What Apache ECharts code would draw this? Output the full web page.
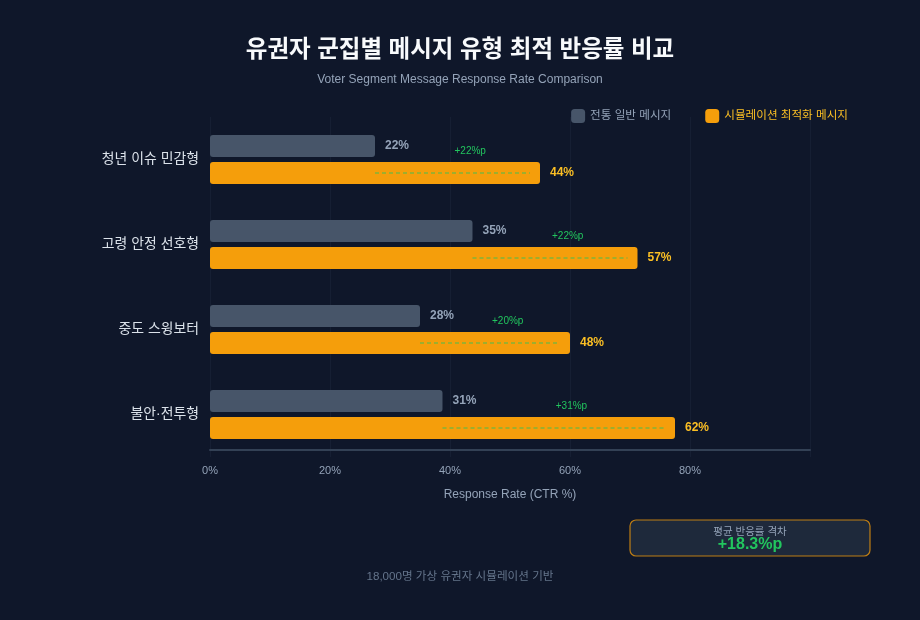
<!DOCTYPE html>
<html>
<head>
<meta charset="utf-8">
<script src="https://cdn.jsdelivr.net/npm/echarts@6/dist/echarts.min.js"></script>
<style>
  html, body { margin: 0; padding: 0; background: #0f172a; }
  #chart { width: 920px; height: 620px; }
</style>
</head>
<body>
<div id="chart"></div>
<script>
// 데이터
var segments = ['청년 이슈 민감형', '고령 안정 선호형', '중도 스윙보터', '불안·전투형'];
var baseRates = [22, 35, 28, 31];
var optRates = [44, 57, 48, 62];
var seriesNames = ['전통 일반 메시지', '시뮬레이션 최적화 메시지'];
var avgGap = 18.3;

var FONT = '"Liberation Sans", "Noto Sans CJK KR", sans-serif';

var gapData = segments.map(function (s, i) {
    return [i, baseRates[i], optRates[i]];
});

var chart = echarts.init(document.getElementById('chart'));

var option = {
    backgroundColor: '#0f172a',
    textStyle: { fontFamily: FONT },
    title: {
        text: '유권자 군집별 메시지 유형 최적 반응률 비교',
        subtext: 'Voter Segment Message Response Rate Comparison',
        left: 'center',
        top: 34,
        itemGap: 11,
        textStyle: { color: '#f8fafc', fontSize: 23.5, fontWeight: 'bold', fontFamily: FONT },
        subtextStyle: { color: '#94a3b8', fontSize: 12, fontFamily: FONT }
    },
    legend: {
        right: 67,
        top: 104,
        itemWidth: 14,
        itemHeight: 14,
        itemGap: 34,
        icon: 'roundRect',
        textStyle: { fontSize: 11.6, fontFamily: FONT },
        data: [
            { name: seriesNames[0], textStyle: { color: '#94a3b8' } },
            { name: seriesNames[1], textStyle: { color: '#fbbf24' } }
        ]
    },
    grid: { left: 210, right: 110, top: 117, height: 340 },
    xAxis: [{
        type: 'value',
        min: 0,
        max: 100,
        interval: 20,
        offset: -7,
        name: 'Response Rate (CTR %)',
        nameLocation: 'middle',
        nameGap: 39,
        nameTextStyle: { color: '#94a3b8', fontSize: 12, fontFamily: FONT },
        axisLine: { show: true, lineStyle: { color: '#334155', width: 2 } },
        axisTick: { show: false },
        axisLabel: {
            color: '#94a3b8',
            fontSize: 11,
            margin: 15,
            formatter: function (v) { return v === 100 ? '' : v + '%'; }
        },
        splitLine: { show: true, lineStyle: { color: 'rgba(51,65,85,0.22)', width: 1 } }
    }, {
        // 막대 전용 스케일
        type: 'value',
        min: 0,
        max: 80,
        show: false
    }],
    yAxis: {
        type: 'category',
        inverse: true,
        data: segments,
        axisLine: { show: false },
        axisTick: { show: false },
        splitLine: { show: false },
        axisLabel: { color: '#dbe2ea', fontSize: 13.9, margin: 11, fontFamily: FONT }
    },
    series: [{
        name: seriesNames[0],
        type: 'bar',
        xAxisIndex: 1,
        data: baseRates,
        barWidth: 22,
        barGap: '23%',
        itemStyle: { color: '#475569', borderRadius: 3 },
        label: {
            show: true,
            position: 'right',
            distance: 10,
            formatter: '{c}%',
            color: '#94a3b8',
            fontSize: 12,
            fontWeight: 'bold'
        }
    }, {
        name: seriesNames[1],
        type: 'bar',
        xAxisIndex: 1,
        data: optRates,
        barWidth: 22,
        itemStyle: { color: '#f59e0b', borderRadius: 3 },
        label: {
            show: true,
            position: 'right',
            distance: 10,
            formatter: '{c}%',
            color: '#fbbf24',
            fontSize: 12,
            fontWeight: 'bold'
        }
    }, {
        name: 'gap',
        type: 'custom',
        xAxisIndex: 1,
        z: 5,
        silent: true,
        data: gapData,
        encode: { x: [1, 2], y: 0 },
        renderItem: function (params, api) {
            var p1 = api.coord([api.value(1), api.value(0)]);
            var p2 = api.coord([api.value(2), api.value(0)]);
            var y = p1[1] + 13.5;
            var diff = api.value(2) - api.value(1);
            return {
                type: 'group',
                children: [{
                    type: 'line',
                    shape: { x1: p1[0], y1: y, x2: p2[0] - 10, y2: y },
                    style: { stroke: 'rgba(34,197,94,0.55)', lineWidth: 1.5, lineDash: [4, 3] }
                }, {
                    type: 'text',
                    x: (p1[0] + p2[0]) / 2 - 3,
                    y: y - 22,
                    style: {
                        text: '+' + diff + '%p',
                        fill: '#22c55e',
                        fontSize: 10,
                        fontFamily: FONT,
                        align: 'left',
                        verticalAlign: 'middle'
                    }
                }]
            };
        }
    }],
    graphic: [{
        type: 'rect',
        shape: { x: 630, y: 520, width: 240, height: 36, r: 6 },
        style: { fill: '#1e293b', stroke: 'rgba(245,158,11,0.75)', lineWidth: 1.2 }
    }, {
        type: 'text',
        x: 750,
        y: 532,
        style: {
            text: '평균 반응률 격차',
            fill: '#94a3b8',
            fontSize: 10.5,
            fontFamily: FONT,
            align: 'center',
            verticalAlign: 'middle'
        }
    }, {
        type: 'text',
        x: 750,
        y: 545,
        style: {
            text: '+' + avgGap + '%p',
            fill: '#22c55e',
            fontSize: 16,
            fontWeight: 'bold',
            fontFamily: FONT,
            align: 'center',
            verticalAlign: 'middle'
        }
    }, {
        type: 'text',
        x: 460,
        y: 577,
        style: {
            text: '18,000명 가상 유권자 시뮬레이션 기반',
            fill: '#64748b',
            fontSize: 11.6,
            fontFamily: FONT,
            align: 'center',
            verticalAlign: 'middle'
        }
    }]
};

chart.setOption(option);
</script>
</body>
</html>
